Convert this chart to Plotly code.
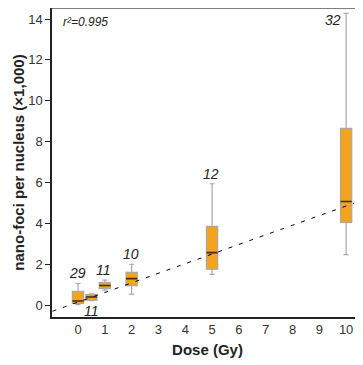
import plotly.graph_objects as go

doses = [0, 0.5, 1, 2, 5, 10]
q1 = [0.08, 0.24, 0.81, 0.96, 1.76, 4.05]
medians = [0.20, 0.40, 0.96, 1.30, 2.57, 5.07]
q3 = [0.68, 0.52, 1.10, 1.60, 3.85, 8.65]
lower = [0.03, 0.22, 0.73, 0.54, 1.51, 2.47]
upper = [1.06, 0.55, 1.22, 2.00, 5.94, 14.28]
n_cells = ["29", "11", "11", "10", "12", "32"]
fit_x = [-0.95, 10.3]
fit_slope = 0.47
fit_intercept = 0.15
x_ticks = [0, 1, 2, 3, 4, 5, 6, 7, 8, 9, 10]
y_ticks = [0, 2, 4, 6, 8, 10, 12, 14]

fig = go.Figure()

fig.add_trace(go.Scatter(
    x=fit_x, y=[fit_intercept + fit_slope * v for v in fit_x],
    mode="lines", line=dict(color="black", width=1, dash="4px,7px"),
    showlegend=False, hoverinfo="skip"))

fig.add_trace(go.Box(
    x=doses, q1=q1, median=medians, q3=q3, lowerfence=lower, upperfence=upper,
    width=0.42, whiskerwidth=0.45,
    fillcolor="#F5A31C", line=dict(color="#A8A8A8", width=1.2),
    showlegend=False, hoverinfo="skip"))

fig.add_trace(go.Box(
    x=doses, q1=medians, median=medians, q3=medians, lowerfence=medians, upperfence=medians,
    width=0.42, whiskerwidth=0,
    fillcolor="rgba(0,0,0,0)", line=dict(color="#4A2E00", width=1.6),
    showlegend=False, hoverinfo="skip"))

font_ann = dict(family="Liberation Sans, Arial, sans-serif", size=14, color="#222")
for i, d in enumerate(doses):
    if d == 0.5:
        fig.add_annotation(x=d, y=lower[i], text="<i>%s</i>" % n_cells[i], showarrow=False,
                           yanchor="top", yshift=0, font=font_ann)
    elif d == 10:
        fig.add_annotation(x=d, y=upper[i], text="<i>%s</i>" % n_cells[i], showarrow=False,
                           xanchor="right", xshift=-3, yanchor="top", yshift=3, font=font_ann)
    else:
        fig.add_annotation(x=d, y=upper[i], text="<i>%s</i>" % n_cells[i], showarrow=False,
                           yanchor="bottom", yshift=0, xshift=-1, font=font_ann)

fig.add_annotation(xref="paper", yref="paper", x=0.03, y=0.985, xanchor="left", yanchor="top",
                   text="<i>r²=0.995</i>", showarrow=False,
                   font=dict(family="Liberation Sans, Arial, sans-serif", size=12, color="#222"))

fig.add_shape(type="line", xref="paper", yref="paper", x0=0, x1=1, y0=1, y1=1,
              line=dict(color="#555", width=1.5))

fig.update_layout(
    width=355, height=357,
    margin=dict(l=44, r=0, t=0, b=48),
    paper_bgcolor="white", plot_bgcolor="white",
    font=dict(family="Liberation Sans, Arial, sans-serif", size=12, color="#333"),
    boxmode="overlay",
    xaxis=dict(range=[-0.97, 10.63], tickvals=x_ticks, ticks="", showgrid=False, zeroline=False,
               showline=True, linecolor="#222", linewidth=1.5, automargin=False,
               title=dict(text="<b>Dose (Gy)</b>", font=dict(size=15, color="#222"), standoff=8),
               tickfont=dict(size=13, color="#333")),
    yaxis=dict(range=[-0.58, 14.54], tickvals=y_ticks, ticks="outside", ticklen=5, tickcolor="#222",
               showgrid=False, zeroline=False, showline=True, linecolor="#222", linewidth=1.5,
               automargin=False,
               title=dict(text="<b>nano-foci per nucleus (×1,000)</b>", font=dict(size=15, color="#222"), standoff=0),
               tickfont=dict(size=13, color="#333")),
)

fig.write_html("out.html")
